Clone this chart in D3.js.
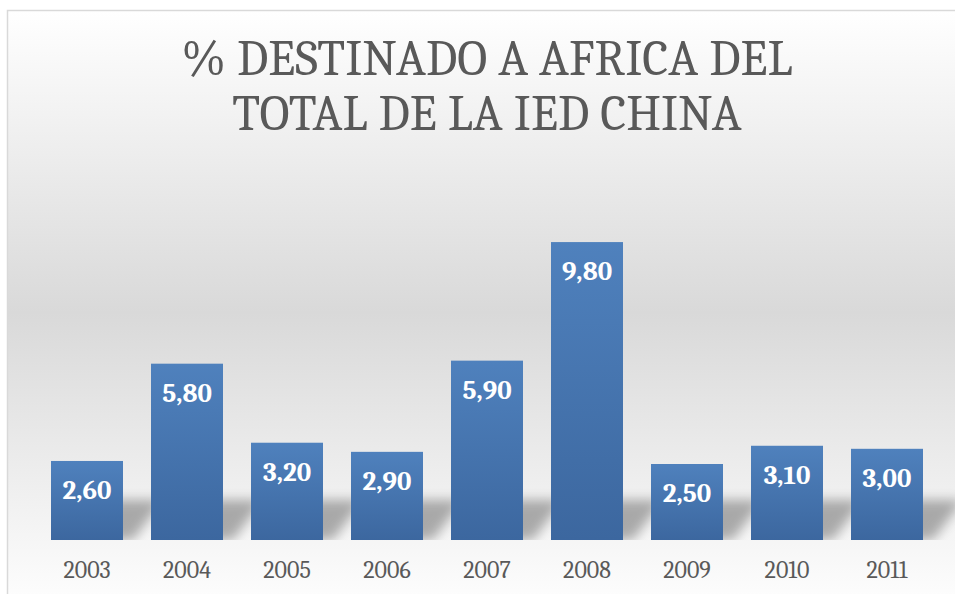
<!DOCTYPE html>
<html>
<head>
<meta charset="utf-8">
<script src="https://cdn.jsdelivr.net/npm/d3@7"></script>
<style>
  body { margin: 0; background: #fff; }
  svg { display: block; }
</style>
</head>
<body>
<div id="chart"></div>
<script>
const width = 955;
const height = 594;

// datos
const years = ["2003", "2004", "2005", "2006", "2007", "2008", "2009", "2010", "2011"];
const values = [2.6, 5.8, 3.2, 2.9, 5.9, 9.8, 2.5, 3.1, 3.0];
const titleLines = ["% DESTINADO A AFRICA DEL", "TOTAL DE LA IED CHINA"];

const margin = { top: 236, bottom: 54, left: 37, right: 18 };
const serif = "Cambria, 'Liberation Serif', 'DejaVu Serif', serif";

const svg = d3.select("div#chart")
  .append("svg")
  .attr("width", width)
  .attr("height", height);

const defs = svg.append("defs");

// fondo degradado
const bg = defs.append("linearGradient")
  .attr("id", "bgGrad")
  .attr("x1", 0).attr("y1", 0).attr("x2", 0).attr("y2", 1);
bg.append("stop").attr("offset", "0%").attr("stop-color", "#ffffff");
bg.append("stop").attr("offset", "50%").attr("stop-color", "#d9d9d9");
bg.append("stop").attr("offset", "100%").attr("stop-color", "#ffffff");

const barGrad = defs.append("linearGradient")
  .attr("id", "barGrad")
  .attr("x1", 0).attr("y1", 0).attr("x2", 0).attr("y2", 1);
barGrad.append("stop").attr("offset", "0%").attr("stop-color", "#4f81bd");
barGrad.append("stop").attr("offset", "100%").attr("stop-color", "#3c679f");

const blur = defs.append("filter").attr("id", "blur")
  .attr("x", "-50%").attr("y", "-50%").attr("width", "200%").attr("height", "200%");
blur.append("feGaussianBlur").attr("stdDeviation", 6);

svg.append("rect")
  .attr("x", 7.5).attr("y", 10.5)
  .attr("width", width + 10).attr("height", height + 10)
  .attr("fill", "url(#bgGrad)")
  .attr("stroke", "#d9d9d9")
  .attr("stroke-width", 1.5);

// escalas
const x = d3.scaleBand()
  .domain(years)
  .range([margin.left, width - margin.right])
  .paddingInner(0.28)
  .paddingOuter(0.14);

const y = d3.scaleLinear()
  .domain([0, 10])
  .range([height - margin.bottom, margin.top]);

const base = y(0);

defs.append("clipPath").attr("id", "aboveBase")
  .append("rect").attr("x", 0).attr("y", 0).attr("width", width).attr("height", base);

// sombras
svg.append("g")
  .attr("clip-path", "url(#aboveBase)")
  .selectAll("path")
  .data(values)
  .join("path")
  .attr("d", (d, i) => {
    const x0 = x(years[i]);
    const w = x.bandwidth();
    const h = Math.min(base - y(d), 40);
    return `M${x0 + 10},${base} L${x0 + w + 10},${base} L${x0 + w + 40},${base - h} L${x0 + 40},${base - h} Z`;
  })
  .attr("fill", "#000")
  .attr("opacity", 0.3)
  .attr("filter", "url(#blur)");

// barras
svg.append("g")
  .selectAll("rect")
  .data(values)
  .join("rect")
  .attr("x", (d, i) => x(years[i]))
  .attr("y", d => y(d))
  .attr("width", x.bandwidth())
  .attr("height", d => base - y(d))
  .attr("fill", "url(#barGrad)");

// etiquetas de valor
svg.append("g")
  .selectAll("text")
  .data(values)
  .join("text")
  .attr("x", (d, i) => x(years[i]) + x.bandwidth() / 2)
  .attr("y", d => y(d) + 38)
  .attr("text-anchor", "middle")
  .attr("fill", "#fff")
  .attr("font-family", serif)
  .attr("font-weight", "bold")
  .attr("font-size", 27)
  .text(d => d3.format(".2f")(d).replace(".", ","));

// eje x
const xAxis = d3.axisBottom(x).tickSize(0).tickPadding(0);
const xAxisGroup = svg.append("g")
  .attr("transform", `translate(0, ${base})`)
  .call(xAxis);
xAxisGroup.select(".domain").remove();
xAxisGroup.selectAll("text")
  .attr("y", 38)
  .attr("dy", null)
  .attr("fill", "#595959")
  .attr("font-family", serif)
  .attr("font-size", 24);

// titulo
svg.append("g")
  .selectAll("text")
  .data(titleLines)
  .join("text")
  .attr("x", 487)
  .attr("y", (d, i) => 75 + i * 55)
  .attr("text-anchor", "middle")
  .attr("fill", "#595959")
  .attr("font-family", serif)
  .attr("font-size", 50)
  .text(d => d);
</script>
</body>
</html>
